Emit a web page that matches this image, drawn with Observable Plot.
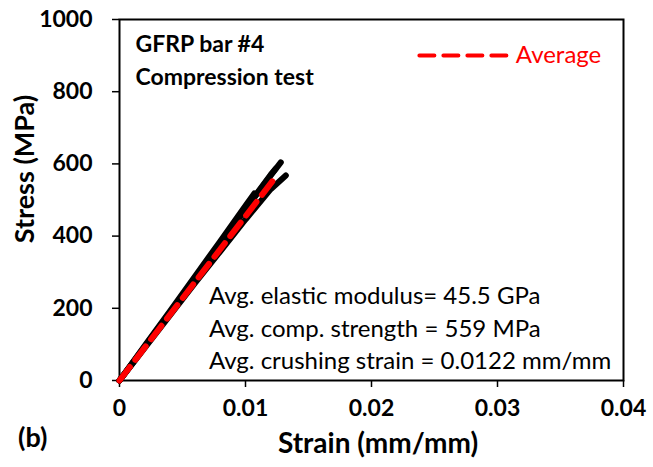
<!DOCTYPE html>
<html>
<head>
<meta charset="utf-8">
<script src="https://cdn.jsdelivr.net/npm/d3@7"></script>
<script src="https://cdn.jsdelivr.net/npm/@observablehq/plot@0.6"></script>
<style>
  html, body { margin: 0; padding: 0; background: #fff; }
  #chart svg { display: block; }
</style>
</head>
<body>
<div id="chart"></div>
<script>
// ---- data ----
const xTicks = [0, 0.01, 0.02, 0.03, 0.04];
const xTickLabels = ["0", "0.01", "0.02", "0.03", "0.04"];
const yTicks = [0, 200, 400, 600, 800, 1000];

// specimen curves (strain mm/mm, stress MPa)
const spec1Strain = [0, 0.001, 0.002, 0.004, 0.006, 0.008, 0.010, 0.0107];
const spec1Stress = [0, 48, 96, 192, 289, 386, 484, 518];
const spec2Strain = [0, 0.001, 0.002, 0.004, 0.006, 0.008, 0.010, 0.012, 0.0128];
const spec2Stress = [0, 46, 92, 186, 282, 378, 474, 568, 604];
const spec3Strain = [0, 0.001, 0.002, 0.004, 0.006, 0.008, 0.010, 0.012, 0.0124];
const spec3Stress = [0, 47, 94, 188, 284, 380, 476, 570, 587];
const spec4Strain = [0, 0.001, 0.002, 0.004, 0.006, 0.008, 0.010, 0.012, 0.0132];
const spec4Stress = [0, 45, 90, 180, 270, 358, 446, 530, 568];

// average curve
const avgStrain = [0, 0.0122];
const avgStress = [0, 555];

// legend sample
const legendStrain = [0.0238, 0.0309];
const legendStress = [900, 900];
const legendLabel = "Average";

// annotations
const titleLines = ["GFRP bar #4", "Compression test"];
const titleY = [931, 840];
const noteLines = [
  "Avg. elastic modulus= 45.5 GPa",
  "Avg. comp. strength = 559 MPa",
  "Avg. crushing strain = 0.0122 mm/mm"
];
const noteY = [232, 141, 52];

// ---- build tables ----
const specimens = [
  [spec1Strain, spec1Stress],
  [spec2Strain, spec2Stress],
  [spec3Strain, spec3Stress],
  [spec4Strain, spec4Stress]
];
const specData = specimens.flatMap(([xs, ys], i) =>
  xs.map((x, j) => ({ id: i, strain: x, stress: ys[j] })));
const avgData = avgStrain.map((x, i) => ({ strain: x, stress: avgStress[i] }));
const legendData = legendStrain.map((x, i) => ({ strain: x, stress: legendStress[i] }));

const FONT = "Lato, 'Open Sans', sans-serif";

const plot = Plot.plot({
  width: 653,
  height: 467,
  marginLeft: 119,
  marginRight: 30,
  marginTop: 19,
  marginBottom: 87,
  style: { fontFamily: FONT, background: "#fff", color: "#000" },
  x: { domain: [0, 0.04] },
  y: { domain: [0, 1000] },
  marks: [
    Plot.frame({ stroke: "#000", strokeWidth: 2 }),
    Plot.axisX({
      ticks: xTicks,
      tickFormat: d => xTickLabels[xTicks.indexOf(d)],
      tickSize: 7,
      tickPadding: 12,
      fontSize: 23,
      fontWeight: "bold",
      strokeWidth: 1.5,
      label: null
    }),
    Plot.axisY({
      ticks: yTicks,
      tickFormat: d3.format("d"),
      tickSize: 7,
      tickPadding: 20,
      fontSize: 23,
      fontWeight: "bold",
      strokeWidth: 1.5,
      label: null
    }),
    Plot.line(specData, {
      x: "strain", y: "stress", z: "id",
      stroke: "#000", strokeWidth: 6, strokeLinecap: "round", strokeLinejoin: "round"
    }),
    Plot.line(avgData, {
      x: "strain", y: "stress",
      stroke: "#ff0000", strokeWidth: 6, strokeDasharray: "17,9", strokeLinecap: "round"
    }),
    Plot.line(legendData, {
      x: "strain", y: "stress",
      stroke: "#ff0000", strokeWidth: 4, strokeDasharray: "15,9"
    }),
    Plot.text([legendLabel], {
      x: legendStrain[1], y: legendStress[0], text: d => d,
      textAnchor: "start", dx: 7, fill: "#ff0000", fontSize: 24
    }),
    Plot.text(titleLines, {
      x: 0, y: (d, i) => titleY[i], text: d => d,
      textAnchor: "start", dx: 16, fontSize: 23, fontWeight: "bold"
    }),
    Plot.text(noteLines, {
      x: 0.0071, y: (d, i) => noteY[i], text: d => d,
      textAnchor: "start", fontSize: 24
    })
  ]
});

// axis titles and panel label
const svg = d3.select(plot);
svg.append("text")
  .attr("x", 378).attr("y", 453)
  .attr("text-anchor", "middle")
  .attr("font-family", FONT).attr("font-size", 28).attr("font-weight", "bold")
  .text("Strain (mm/mm)");
svg.append("text")
  .attr("transform", "translate(34,169) rotate(-90)")
  .attr("text-anchor", "middle")
  .attr("font-family", FONT).attr("font-size", 27).attr("font-weight", "bold")
  .text("Stress (MPa)");
svg.append("text")
  .attr("x", 18).attr("y", 447)
  .attr("text-anchor", "start")
  .attr("font-family", FONT).attr("font-size", 27).attr("font-weight", "bold")
  .text("(b)");

document.getElementById("chart").appendChild(plot);
</script>
</body>
</html>
